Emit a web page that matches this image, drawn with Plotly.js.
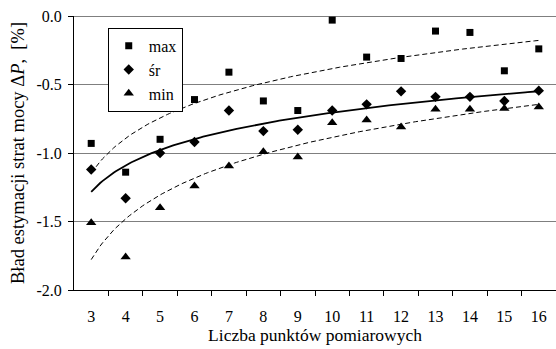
<!DOCTYPE html>
<html><head><meta charset="utf-8">
<script src="https://cdn.plot.ly/plotly-3.0.1.min.js"></script>
<style>html,body{margin:0;padding:0;background:#fff}#chart{width:556px;height:349px}</style>
</head><body><div id="chart"></div>
<script>
// Data
const points = [3,4,5,6,7,8,9,10,11,12,13,14,15,16];
const maxVals = [-0.93,-1.14,-0.90,-0.61,-0.41,-0.62,-0.69,-0.03,-0.30,-0.31,-0.11,-0.12,-0.40,-0.24];
const srVals  = [-1.12,-1.33,-1.00,-0.92,-0.69,-0.84,-0.83,-0.69,-0.645,-0.55,-0.59,-0.59,-0.62,-0.545];
const minVals = [-1.51,-1.76,-1.40,-1.24,-1.095,-0.99,-1.03,-0.78,-0.76,-0.81,-0.68,-0.68,-0.675,-0.665];
const yTickVals = [-2.0,-1.5,-1.0,-0.5,0.0];
const yTickText = ["-2.0","-1.5","-1.0","-0.5","0.0"];
const xTickText = points.map(String);
const seriesNames = ["max","śr","min"];

// Logarithmic trend lines (least squares on category index, as in a spreadsheet trendline)
function logFit(ys){
  const L = ys.map((_,i)=>Math.log(i+1));
  const n = ys.length;
  const mL = L.reduce((a,b)=>a+b,0)/n, mY = ys.reduce((a,b)=>a+b,0)/n;
  let sxy=0, sxx=0;
  for(let i=0;i<n;i++){sxy+=(L[i]-mL)*(ys[i]-mY); sxx+=(L[i]-mL)*(L[i]-mL);}
  const a = sxy/sxx, b = mY - a*mL;
  const xs=[], yv=[];
  const first = points[0], last = points[points.length-1];
  for(let k=0;k<=200;k++){
    const x = first + (last-first)*k/200;
    const idx = x - first + 1;
    xs.push(x); yv.push(a*Math.log(idx)+b);
  }
  return {xs, yv};
}
const fMax = logFit(maxVals), fSr = logFit(srVals), fMin = logFit(minVals);

const font = {family:"Liberation Serif, Times New Roman, serif", color:"#000", size:16};
const traces = [
  {x:fMax.xs, y:fMax.yv, mode:"lines", line:{color:"#000", width:1, dash:"5px,3px"}, showlegend:false, hoverinfo:"skip"},
  {x:fSr.xs, y:fSr.yv, mode:"lines", line:{color:"#000", width:1.8}, showlegend:false, hoverinfo:"skip"},
  {x:fMin.xs, y:fMin.yv, mode:"lines", line:{color:"#000", width:1, dash:"5px,3px"}, showlegend:false, hoverinfo:"skip"},
  {x:points, y:maxVals, name:seriesNames[0], mode:"markers", marker:{symbol:"square", size:7, color:"#000"}},
  {x:points, y:srVals, name:seriesNames[1], mode:"markers", marker:{symbol:"diamond", size:8, color:"#000"}},
  {x:points, y:minVals, name:seriesNames[2], mode:"markers", marker:{symbol:"triangle-up", size:9, color:"#000"}},
  {x:points, y:srVals, xaxis:"x2", mode:"markers", marker:{opacity:0}, showlegend:false, hoverinfo:"skip"}
];
const layout = {
  width:556, height:349,
  margin:{l:74, r:0, t:16, b:59},
  paper_bgcolor:"#fff", plot_bgcolor:"#fff",
  font:font,
  showlegend:true,
  legend:{x:0.07, y:0.957, xanchor:"left", yanchor:"top", bgcolor:"#fff", bordercolor:"#000", borderwidth:1, font:{family:font.family, size:16, color:"#000"}, itemwidth:30, tracegroupgap:0},
  xaxis:{range:[2.5,16.5], tickvals:points, ticktext:xTickText, ticks:"", showgrid:false, zeroline:false,
         showline:true, linecolor:"#000", linewidth:1, ticklabelstandoff:12,
         tickfont:{family:font.family, size:16, color:"#000"},
         title:{text:"Liczba punktów pomiarowych", font:{family:font.family, size:17.5, color:"#000"}, standoff:0}},
  xaxis2:{overlaying:"x", matches:"x", range:[2.5,16.5], side:"bottom", tickvals:points.map(p=>p+0.5), ticks:"outside", ticklen:5, tickcolor:"#000",
          showticklabels:false, showgrid:false, zeroline:false, showline:false},
  yaxis:{range:[-2,0], tickvals:yTickVals, ticktext:yTickText, ticks:"outside", ticklen:5, tickcolor:"#000",
         showgrid:true, gridcolor:"#7f7f7f", gridwidth:1, zeroline:true, zerolinecolor:"#7f7f7f", zerolinewidth:1,
         showline:true, linecolor:"#000", linewidth:1, ticklabelstandoff:3,
         tickfont:{family:font.family, size:16, color:"#000"},
         title:{text:"Bład estymacji strat mocy Δ<i>P</i>,  [%]", font:{family:font.family, size:18.5, color:"#000"}, standoff:6}}
};
Plotly.newPlot("chart", traces, layout, {staticPlot:true, displayModeBar:false});
</script></body></html>
